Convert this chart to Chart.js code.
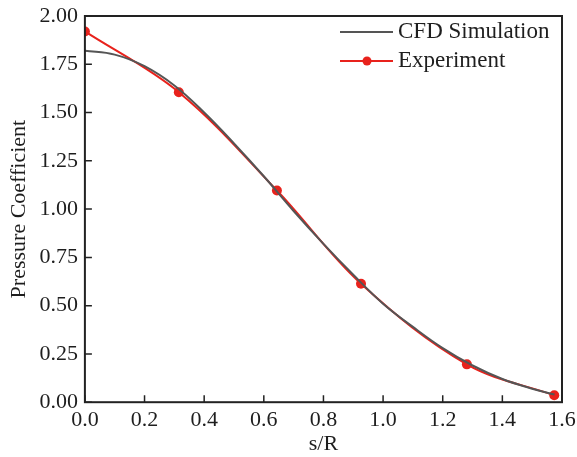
<!DOCTYPE html>
<html>
<head>
<meta charset="utf-8">
<script src="https://cdn.jsdelivr.net/npm/chart.js@4/dist/chart.umd.min.js"></script>
<style>
  body { margin: 0; background: #fff; }
  #wrap { width: 577px; height: 457px; }
</style>
</head>
<body>
<div id="wrap"><canvas id="chart" width="577" height="457"></canvas></div>
<script>
// values
var cfdX = [0, 0.1, 0.2, 0.3, 0.4, 0.5, 0.6, 0.7, 0.8, 0.9, 1.0, 1.1, 1.2, 1.3, 1.4, 1.5, 1.575];
var cfdY = [1.82, 1.80, 1.74, 1.64, 1.50, 1.34, 1.17, 0.99, 0.82, 0.66, 0.51, 0.39, 0.28, 0.19, 0.12, 0.07, 0.04];
var expX = [0, 0.315, 0.644, 0.926, 1.281, 1.574];
var expY = [1.92, 1.605, 1.096, 0.613, 0.196, 0.036];
var xTicks = [0, 0.2, 0.4, 0.6, 0.8, 1.0, 1.2, 1.4, 1.6];
var yTicks = [0, 0.25, 0.5, 0.75, 1.0, 1.25, 1.5, 1.75, 2.0];

var FONT = 'Liberation Serif';
var INK = '#1e1e1e';

function toPoints(xs, ys) {
  return xs.map(function(x, i) { return { x: x, y: ys[i] }; });
}

// frame, inward ticks and legend drawn on top of the chart area
var framePlugin = {
  id: 'frame',
  afterDraw: function(chart) {
    var ctx = chart.ctx;
    var a = chart.chartArea;
    var xs = chart.scales.x, ys = chart.scales.y;
    ctx.save();
    ctx.strokeStyle = '#222';
    ctx.lineWidth = 2;
    ctx.strokeRect(a.left, a.top, a.right - a.left, a.bottom - a.top);
    ctx.lineWidth = 1.5;
    ctx.beginPath();
    xTicks.forEach(function(v) {
      var px = xs.getPixelForValue(v);
      ctx.moveTo(px, a.bottom);
      ctx.lineTo(px, a.bottom - 7);
    });
    yTicks.forEach(function(v) {
      var py = ys.getPixelForValue(v);
      ctx.moveTo(a.left, py);
      ctx.lineTo(a.left + 7, py);
    });
    ctx.stroke();

    // legend
    var lx = a.right - 222, ly = a.top + 16;
    ctx.font = '23px "' + FONT + '"';
    ctx.textBaseline = 'middle';
    ctx.fillStyle = INK;
    ctx.strokeStyle = '#555';
    ctx.lineWidth = 2;
    ctx.beginPath();
    ctx.moveTo(lx, ly); ctx.lineTo(lx + 53, ly);
    ctx.stroke();
    ctx.fillText('CFD Simulation', lx + 58, ly);
    ly += 29;
    ctx.strokeStyle = '#e8221c';
    ctx.beginPath();
    ctx.moveTo(lx, ly); ctx.lineTo(lx + 53, ly);
    ctx.stroke();
    ctx.fillStyle = '#e8221c';
    ctx.beginPath();
    ctx.arc(lx + 27, ly, 4.5, 0, Math.PI * 2);
    ctx.fill();
    ctx.fillStyle = INK;
    ctx.fillText('Experiment', lx + 58, ly);
    ctx.restore();
  }
};

new Chart(document.getElementById('chart'), {
  type: 'line',
  data: {
    datasets: [
      {
        label: 'CFD Simulation',
        data: toPoints(cfdX, cfdY),
        borderColor: '#555',
        borderWidth: 2,
        pointRadius: 0,
        tension: 0.4,
        fill: false
      },
      {
        label: 'Experiment',
        data: toPoints(expX, expY),
        borderColor: '#e8221c',
        backgroundColor: '#e8221c',
        borderWidth: 2,
        pointRadius: 5,
        pointBorderWidth: 0,
        tension: 0.35,
        fill: false
      }
    ]
  },
  options: {
    responsive: false,
    animation: false,
    layout: { padding: { top: 16, right: 15, left: 6, bottom: 0 } },
    plugins: {
      legend: { display: false },
      tooltip: { enabled: false }
    },
    scales: {
      x: {
        type: 'linear',
        min: 0, max: 1.6,
        afterBuildTicks: function(s) { s.ticks = xTicks.map(function(v) { return { value: v }; }); },
        afterFit: function(s) { s.paddingLeft = 0; s.paddingRight = 0; },
        grid: { display: false, drawTicks: false },
        border: { display: false },
        ticks: {
          color: INK, padding: 5,
          font: { family: FONT, size: 22 },
          callback: function(v) { return v.toFixed(1); }
        },
        title: {
          display: true, text: 's/R', color: INK,
          font: { family: FONT, size: 22 }, padding: { top: -8, bottom: 0 }
        }
      },
      y: {
        min: 0, max: 2,
        afterBuildTicks: function(s) { s.ticks = yTicks.map(function(v) { return { value: v }; }); },
        afterFit: function(s) { s.paddingTop = 0; s.paddingBottom = 0; },
        grid: { display: false, drawTicks: false },
        border: { display: false },
        ticks: {
          color: INK, padding: 7,
          font: { family: FONT, size: 22 },
          callback: function(v) { return v.toFixed(2); }
        },
        title: {
          display: true, text: 'Pressure Coefficient', color: INK,
          font: { family: FONT, size: 22 }, padding: { top: 0, bottom: 0 }
        }
      }
    }
  },
  plugins: [framePlugin]
});
</script>
</body>
</html>
